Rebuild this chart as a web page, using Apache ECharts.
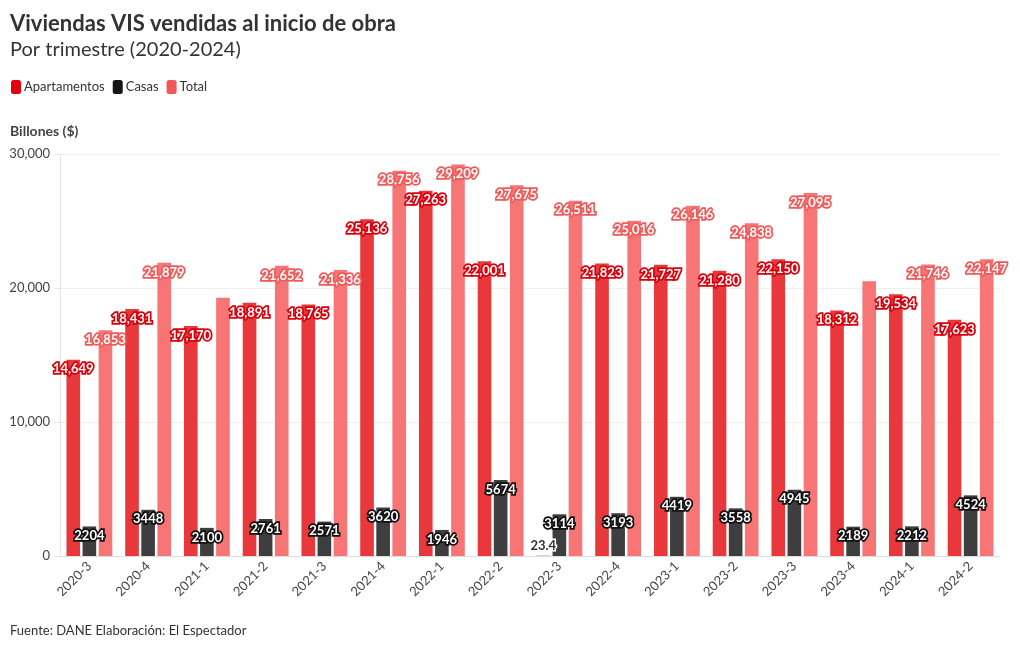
<!DOCTYPE html>
<html>
<head>
<meta charset="utf-8">
<script src="https://cdn.jsdelivr.net/npm/echarts@6/dist/echarts.min.js"></script>
<style>
html,body{margin:0;padding:0;background:#fff;}
#chart{width:1020px;height:650px;}
</style>
</head>
<body>
<div id="chart"></div>
<script>
const categories = ['2020-3','2020-4','2021-1','2021-2','2021-3','2021-4','2022-1','2022-2','2022-3','2022-4','2023-1','2023-2','2023-3','2023-4','2024-1','2024-2'];
const apartamentos = [14649,18431,17170,18891,18765,25136,27263,22001,23.4,21823,21727,21280,22150,18312,19534,17623];
const casas = [2204,3448,2100,2761,2571,3620,1946,5674,3114,3193,4419,3558,4945,2189,2212,4524];
const total = [16853,21879,19270,21652,21336,28756,29209,27675,26511,25016,26146,24838,27095,20501,21746,22147];
const yTicks = [0,10000,20000,30000];
const hiddenTotalLabels = ['2021-1','2023-4'];

const FONT = 'Lato, "Source Sans Pro", sans-serif';
const fmtComma = v => {
  if (Math.abs(v) < 1000 && v % 1 !== 0) return String(v);
  return Math.round(v).toLocaleString('en-US');
};

function labelBase(border) {
  return {
    show: true,
    position: 'insideTop',
    distance: 3,
    color: '#fff',
    fontFamily: FONT,
    fontWeight: 'bold',
    fontSize: 13,
    textBorderColor: border,
    textBorderWidth: 3.5
  };
}

const aptData = apartamentos.map(v => {
  if (v < 1000) {
    return { value: v, label: { position: 'insideBottom', distance: 4, color: '#333', textBorderColor: '#fff', textBorderWidth: 3 } };
  }
  return v;
});
const totData = total.map((v, i) => hiddenTotalLabels.includes(categories[i]) ? { value: v, label: { show: false } } : v);

const chart = echarts.init(document.getElementById('chart'), null, { renderer: 'canvas' });
chart.setOption({
  backgroundColor: '#fff',
  animation: false,
  title: [
    { text: 'Viviendas VIS vendidas al inicio de obra', left: 5, top: 8,
      textStyle: { fontFamily: FONT, fontWeight: 'bold', fontSize: 22, color: '#333' } },
    { text: 'Por trimestre (2020-2024)', left: 5, top: 35,
      textStyle: { fontFamily: FONT, fontWeight: 'normal', fontSize: 20, color: '#333' } },
    { text: 'Billones ($)', left: 5, top: 119,
      textStyle: { fontFamily: FONT, fontWeight: 'bold', fontSize: 14, color: '#444' } },
    { text: 'Fuente: DANE Elaboración: El Espectador', left: 5, top: 619,
      textStyle: { fontFamily: FONT, fontWeight: 'normal', fontSize: 13, color: '#333' } }
  ],
  legend: {
    left: 6, top: 75,
    icon: 'roundRect',
    itemWidth: 10, itemHeight: 14, itemGap: 8,
    textStyle: { fontFamily: FONT, fontSize: 13, color: '#333', padding: [0, 0, 0, -2] },
    data: [
      { name: 'Apartamentos', itemStyle: { color: '#e3000f', opacity: 1 } },
      { name: 'Casas', itemStyle: { color: '#161616', opacity: 1 } },
      { name: 'Total', itemStyle: { color: '#f25656', opacity: 1 } }
    ]
  },
  grid: { left: 60, right: 20, top: 154, bottom: 94, containLabel: false },
  xAxis: {
    type: 'category',
    data: categories,
    axisLine: { lineStyle: { color: '#ddd' } },
    axisTick: { alignWithLabel: true, length: 5, lineStyle: { color: '#ddd' } },
    axisLabel: { rotate: 45, fontFamily: FONT, fontSize: 13, color: '#444', margin: 8 }
  },
  yAxis: {
    type: 'value',
    min: yTicks[0], max: yTicks[yTicks.length - 1], interval: yTicks[1] - yTicks[0],
    axisLine: { show: true, lineStyle: { color: '#e6e6e6' } },
    axisTick: { show: true, length: 6, lineStyle: { color: '#e6e6e6' } },
    splitLine: { lineStyle: { color: '#efefef' } },
    axisLabel: { fontFamily: FONT, fontSize: 13, color: '#444', margin: 10,
      formatter: v => v.toLocaleString('en-US') }
  },
  series: [
    { name: 'Apartamentos', type: 'bar', data: aptData, barGap: '18%', barCategoryGap: '22%',
      itemStyle: { color: '#e8383b' },
      label: Object.assign(labelBase('#d8000c'), { formatter: p => fmtComma(p.value) }) },
    { name: 'Casas', type: 'bar', data: casas,
      itemStyle: { color: '#3e3e3e' },
      label: Object.assign(labelBase('#111'), { formatter: p => String(p.value) }) },
    { name: 'Total', type: 'bar', data: totData,
      itemStyle: { color: '#f77575' },
      label: Object.assign(labelBase('#ef5b5b'), { formatter: p => fmtComma(p.value) }) }
  ]
});
</script>
</body>
</html>
